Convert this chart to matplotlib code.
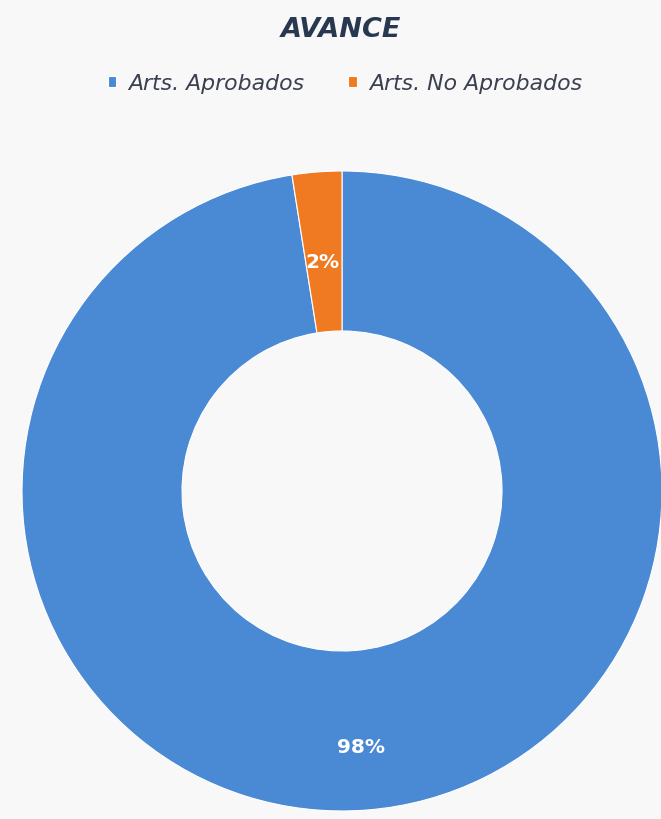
import matplotlib.pyplot as plt

# datos del grafico
categorias = ['Arts. Aprobados', 'Arts. No Aprobados']
valores = [97.5, 2.5]
colores = ['#4A89D3', '#F07A22']

fig = plt.figure(figsize=(6.61, 8.2), dpi=100)
fig.patch.set_facecolor('#f8f8f8')

ax = fig.add_axes([22 / 661, 8 / 820, 640 / 661, 640 / 820])
wedges, textos, pcts = ax.pie(valores, colors=colores, startangle=90, counterclock=False,
                              radius=1, autopct='%.0f%%', pctdistance=0.77,
                              wedgeprops=dict(width=0.5, edgecolor='white', linewidth=0.8),
                              textprops=dict(color='white', fontsize=14.5, fontweight='bold',
                                             family='DejaVu Sans'))
ax.set_xlim(-1, 1)
ax.set_ylim(-1, 1)
ax.set_aspect('equal')
for w in wedges:
    w.set_clip_on(False)
# ajuste fino de las etiquetas
pcts[0].set_y(pcts[0].get_position()[1] - 0.03)
pcts[1].set_y(pcts[1].get_position()[1] - 0.05)

# titulo
fig.text(341 / 661, 1 - 30 / 820, 'AVANCE', ha='center', va='center', fontsize=19.5,
         fontweight='bold', fontstyle='italic', color='#283850', family='DejaVu Sans')

# leyenda
leg = fig.legend(wedges, categorias, loc='center', bbox_to_anchor=(345 / 661, 1 - 84 / 820),
                 ncol=2, frameon=False, handlelength=0.4, handleheight=0.4,
                 handletextpad=0.55, columnspacing=2.0,
                 prop=dict(family='DejaVu Sans', style='italic', size=15.8))
for t in leg.get_texts():
    t.set_color('#3a4050')

fig.savefig('out.png', dpi=100, facecolor=fig.get_facecolor())
